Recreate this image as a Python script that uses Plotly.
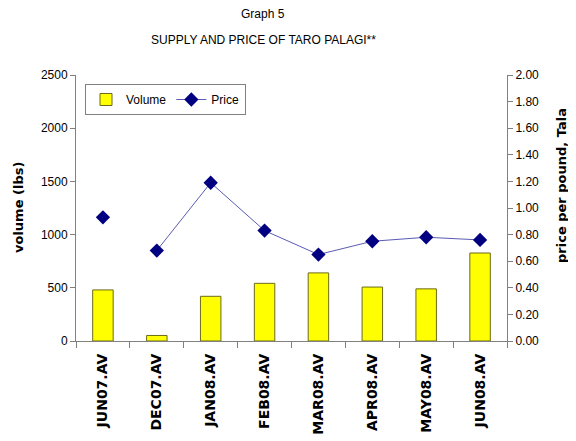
import plotly.graph_objects as go

categories = ["JUN07.AV", "DEC07.AV", "JAN08.AV", "FEB08.AV", "MAR08.AV", "APR08.AV", "MAY08.AV", "JUN08.AV"]
volume = [480, 52, 420, 542, 640, 507, 490, 827]
price = [0.93, 0.68, 1.19, 0.83, 0.65, 0.75, 0.78, 0.76]

sans = "Liberation Sans, Arial, sans-serif"
boldf = "DejaVu Sans, Verdana, sans-serif"

OFF = 8  # default page body margin
W, H = 576 - OFF, 441 - OFF
L = 76 - OFF
T = 75 - OFF
R = W - (507 - OFF)
B = H - (341 - OFF)
plot_w = W - L - R
plot_h = H - T - B


def px_x(x):
    return (x - OFF - L) / plot_w


def px_y(y):
    return 1 - (y - OFF - T) / plot_h


fig = go.Figure()
fig.add_trace(go.Bar(
    x=categories, y=volume, name="Volume", width=0.38,
    marker=dict(color="#ffff00", line=dict(color="#6b6b1a", width=1)),
    yaxis="y",
))
fig.add_trace(go.Scatter(
    x=categories[1:], y=price[1:], name="Price", mode="lines+markers",
    line=dict(color="#5a5ab4", width=1),
    marker=dict(symbol="diamond", size=11, color="#000080"),
    yaxis="y2",
))
fig.add_trace(go.Scatter(
    x=categories[:1], y=price[:1], name="Price", mode="markers", showlegend=False,
    marker=dict(symbol="diamond", size=11, color="#000080"),
    yaxis="y2",
))

fig.update_layout(
    width=W, height=H,
    margin=dict(l=L, r=R, t=T, b=B, autoexpand=False),
    paper_bgcolor="white", plot_bgcolor="white",
    font=dict(family=sans, size=12, color="black"),
    showlegend=True,
    legend=dict(
        orientation="h", x=px_x(85), y=px_y(84), xanchor="left", yanchor="top",
        bordercolor="#808080", borderwidth=1, bgcolor="white",
        font=dict(family=sans, size=12), itemwidth=30,
        tracegroupgap=0,
    ),
    xaxis=dict(
        type="category", tickangle=-90, showline=True, linecolor="#808080", linewidth=1,
        ticks="outside", tickson="boundaries", ticklen=6, tickcolor="#808080", showgrid=False,
        tickfont=dict(family=boldf, size=14, color="black", weight="bold"),
        ticklabelstandoff=6, automargin=False,
        range=[-0.5, 7.5],
    ),
    yaxis=dict(
        range=[0, 2500], dtick=500, showline=True, linecolor="#808080", linewidth=1,
        ticks="outside", ticklen=5, tickcolor="#808080", showgrid=False, zeroline=False,
        tickfont=dict(family=sans, size=12), automargin=False,
    ),
    yaxis2=dict(
        range=[0, 2.0], dtick=0.2, tickformat=".2f", overlaying="y", side="right",
        showline=True, linecolor="#808080", linewidth=1,
        ticks="outside", ticklen=5, tickcolor="#808080", showgrid=False, zeroline=False,
        tickfont=dict(family=sans, size=12), automargin=False,
    ),
)

fig.add_annotation(text="Graph 5", x=px_x(263), y=px_y(14), xref="paper", yref="paper",
                   showarrow=False, font=dict(family=sans, size=12), yanchor="middle")
fig.add_annotation(text="SUPPLY AND PRICE OF TARO PALAGI**", x=px_x(263), y=px_y(40),
                   xref="paper", yref="paper", showarrow=False,
                   font=dict(family=sans, size=12), yanchor="middle")
fig.add_annotation(text="volume (lbs)", x=px_x(18), y=px_y(208), xref="paper", yref="paper",
                   showarrow=False, textangle=-90, xanchor="center", yanchor="middle",
                   font=dict(family=boldf, size=13, weight="bold"))
fig.add_annotation(text="price per pound, Tala", x=px_x(561), y=px_y(186), xref="paper", yref="paper",
                   showarrow=False, textangle=-90, xanchor="center", yanchor="middle",
                   font=dict(family=boldf, size=13, weight="bold"))

fig.write_html("out.html")
